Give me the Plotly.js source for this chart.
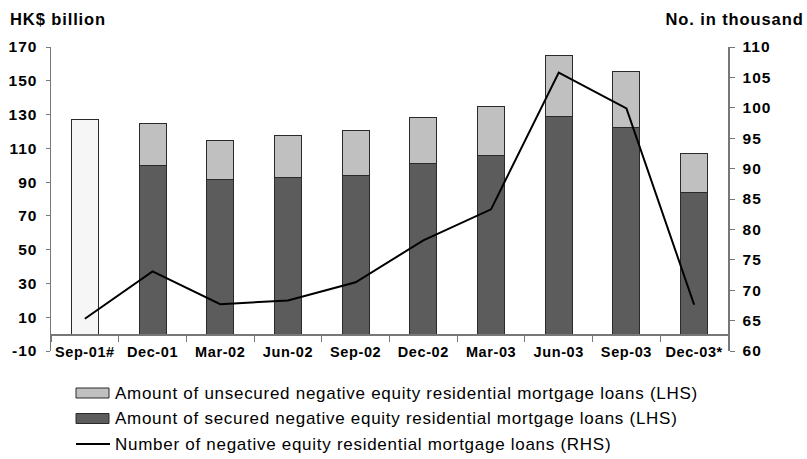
<!DOCTYPE html>
<html>
<head>
<meta charset="utf-8">
<script src="https://cdn.plot.ly/plotly-3.0.1.min.js"></script>
<style>
  html, body { margin: 0; padding: 0; background: #fff; }
  #chart { width: 807px; height: 459px; }
  #chart .xtick text { letter-spacing: 0.6px; }
  #chart .ytick text, #chart .y2tick text { letter-spacing: 1px; }
  #chart .annotation.bold text { letter-spacing: 0.9px; }
  #chart .annotation.legtxt text { letter-spacing: 0.72px; }
</style>
</head>
<body>
<div id="chart"></div>
<script>
// ---- data ----
const categories = ["Sep-01#", "Dec-01", "Mar-02", "Jun-02", "Sep-02", "Dec-02", "Mar-03", "Jun-03", "Sep-03", "Dec-03*"];
const totalOnlyCategories = ["Sep-01#"];
const totalOnlyValues = [127];
const splitCategories = ["Dec-01", "Mar-02", "Jun-02", "Sep-02", "Dec-02", "Mar-03", "Jun-03", "Sep-03", "Dec-03*"];
const securedValues = [100, 91.5, 92.5, 94, 101, 105.5, 129, 122.5, 84];
const unsecuredValues = [24.5, 23, 25, 26.5, 27.5, 29.5, 36, 33, 23];
const numberValues = [65.3, 73.1, 67.7, 68.3, 71.3, 78.2, 83.3, 105.8, 99.9, 67.6];
const leftTicks = [-10, 10, 30, 50, 70, 90, 110, 130, 150, 170];
const rightTicks = [60, 65, 70, 75, 80, 85, 90, 95, 100, 105, 110];
const seriesNames = [
  "Amount of unsecured negative equity residential mortgage loans (LHS)",
  "Amount of secured negative equity residential mortgage loans (LHS)",
  "Number of negative equity residential mortgage loans (RHS)"
];
const leftTitle = "HK$ billion";
const rightTitle = "No. in thousand";

// ---- styles ----
const FONT = "Liberation Sans, Arial, Helvetica, sans-serif";
const cUnsec = "#c0c0c0", cSec = "#5c5c5c", cTotal = "#f6f6f6", cEdge = "#2a2a2a";
const W = 807, H = 459, ML = 51, MR = 79, MT = 47, MB = 108;
const PW = W - ML - MR, PH = H - MT - MB;
const px = x => (x - ML) / PW;
const py = y => (H - MB - y) / PH;

const traces = [
  { type: "bar", x: totalOnlyCategories, y: totalOnlyValues, name: "Total", showlegend: false,
    marker: { color: cTotal, line: { color: cEdge, width: 1 } }, width: 0.4, yaxis: "y" },
  { type: "bar", x: splitCategories, y: securedValues, name: seriesNames[1],
    marker: { color: cSec, line: { color: cEdge, width: 1 } }, width: 0.4, yaxis: "y" },
  { type: "bar", x: splitCategories, y: unsecuredValues, name: seriesNames[0],
    marker: { color: cUnsec, line: { color: cEdge, width: 1 } }, width: 0.4, yaxis: "y" },
  { type: "scatter", mode: "lines", x: categories, y: numberValues, name: seriesNames[2],
    line: { color: "#000", width: 2 }, yaxis: "y2" }
];

// custom legend
const legendRows = [393, 418.5, 444];
const shapes = [
  { type: "rect", xref: "paper", yref: "paper", x0: px(76), x1: px(109), y0: py(388), y1: py(398),
    fillcolor: cUnsec, line: { color: cEdge, width: 1 } },
  { type: "rect", xref: "paper", yref: "paper", x0: px(76), x1: px(109), y0: py(413.5), y1: py(423.5),
    fillcolor: cSec, line: { color: cEdge, width: 1 } },
  { type: "line", xref: "paper", yref: "paper", x0: px(76), x1: px(110), y0: py(444), y1: py(444),
    line: { color: "#000", width: 2 } }
];
const annotations = seriesNames.map((t, i) => ({
  xref: "paper", yref: "paper", x: px(113), y: py(legendRows[i]), xanchor: "left", yanchor: "middle",
  align: "left", text: t, showarrow: false, font: { family: FONT, size: 17, color: "#000" }
}));
annotations.push({
  xref: "paper", yref: "paper", x: px(8), y: py(19), xanchor: "left", yanchor: "middle", align: "left",
  text: "<b>" + leftTitle + "</b>", showarrow: false, font: { family: FONT, size: 16.5, color: "#000" }
});
annotations.push({
  xref: "paper", yref: "paper", x: px(806), y: py(19), xanchor: "right", yanchor: "middle", align: "right",
  text: "<b>" + rightTitle + "</b>", showarrow: false, font: { family: FONT, size: 16.5, color: "#000" }
});

const layout = {
  width: W, height: H,
  margin: { l: ML, r: MR, t: MT, b: MB, pad: 0 },
  paper_bgcolor: "#fff", plot_bgcolor: "#fff",
  showlegend: false,
  barmode: "stack",
  font: { family: FONT, color: "#000" },
  xaxis: {
    type: "category", categoryorder: "array", categoryarray: categories,
    range: [-0.5, 9.5], anchor: "free", position: 10 / 180,
    showline: true, linecolor: "#777", linewidth: 1.5,
    ticks: "outside", tickson: "boundaries", ticklen: 6, tickcolor: "#777",
    showgrid: false, zeroline: false, ticklabelstandoff: 4,
    tickfont: { family: FONT, size: 14.5, color: "#000", weight: "bold" }
  },
  yaxis: {
    range: [-10, 170], tickmode: "array", tickvals: leftTicks, ticktext: leftTicks.map(String),
    showline: true, linecolor: "#777", linewidth: 1.5, ticks: "outside", ticklen: 4, tickcolor: "#777",
    showgrid: false, zeroline: false, ticklabelstandoff: 5,
    tickfont: { family: FONT, size: 15.5, color: "#000", weight: "bold" }
  },
  yaxis2: {
    overlaying: "y", side: "right", anchor: "x",
    range: [60, 110], tickmode: "array", tickvals: rightTicks, ticktext: rightTicks.map(String),
    showline: true, linecolor: "#777", linewidth: 1.5, ticks: "outside", ticklen: 5, tickcolor: "#777",
    showgrid: false, zeroline: false, ticklabelstandoff: 5,
    tickfont: { family: FONT, size: 15.5, color: "#000", weight: "bold" }
  },
  shapes: shapes,
  annotations: annotations
};

Plotly.newPlot("chart", traces, layout, { staticPlot: true, displayModeBar: false }).then(() => {
  document.querySelectorAll("#chart .annotation").forEach((g, i) => {
    g.classList.add(i >= seriesNames.length ? "bold" : "legtxt");
  });
});
</script>
</body>
</html>
